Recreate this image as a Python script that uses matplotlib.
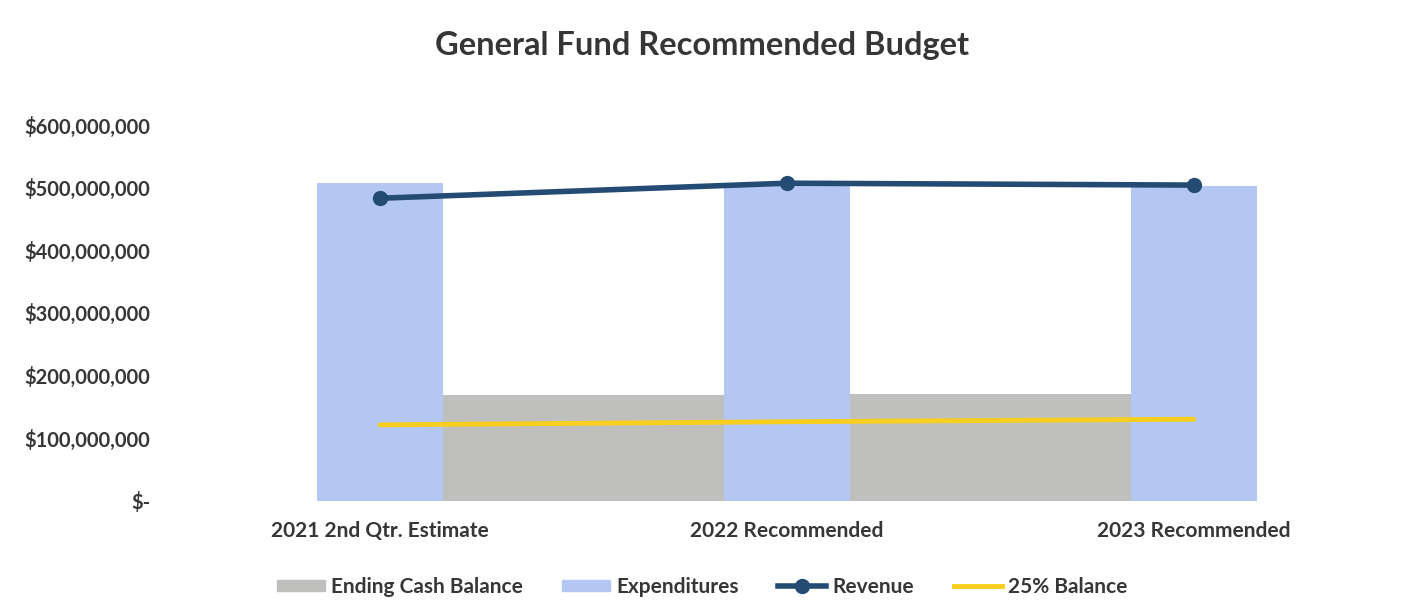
import numpy as np
import matplotlib.pyplot as plt
from matplotlib.patches import Patch
from matplotlib.lines import Line2D
from matplotlib.ticker import FuncFormatter

plt.rcParams['font.family'] = ['Lato', 'DejaVu Sans']
plt.rcParams['font.weight'] = 'bold'

# budget periods and series (dollars)
periods = ['2021 2nd Qtr. Estimate', '2022 Recommended', '2023 Recommended']
expenditures = [507e6, 505e6, 502e6]
revenue = [483e6, 507e6, 504e6]
balance_25 = [121e6, 126e6, 130e6]
# ending cash balance sits between consecutive periods
ending_cash = [169e6, 171e6]

GREY = '#BFBFBD'
BLUE = '#B4C7F2'
NAVY = '#244B74'
GOLD = '#F8CF1E'
TEXT = '#363636'

x = np.arange(len(periods))
x_cash = (x[:-1] + x[1:]) / 2

fig = plt.figure(figsize=(14.04, 6.02), dpi=100)
ax = fig.add_axes([0.126, 0.1684, 0.869, 0.624])

ax.bar(x_cash, ending_cash, width=0.69, color=GREY, zorder=1)
ax.bar(x, expenditures, width=0.31, color=BLUE, zorder=2)
ax.plot(x, revenue, color=NAVY, lw=4, marker='o', ms=10, zorder=4)
ax.plot(x, balance_25, color=GOLD, lw=3.5, zorder=3, solid_capstyle='round')

ax.set_xlim(-0.5, 2.5)
ax.set_ylim(0, 600e6)
ax.set_yticks(np.arange(0, 600e6 + 1, 100e6))
ax.yaxis.set_major_formatter(FuncFormatter(
    lambda v, _: '$-' if v == 0 else f'${v:,.0f}'))
ax.set_xticks(x)
ax.set_xticklabels(periods)
ax.tick_params(length=0, labelcolor=TEXT)
ax.tick_params(axis='x', labelsize=15, pad=15)
ax.tick_params(axis='y', labelsize=14.5, pad=19)
for s in ax.spines.values():
    s.set_visible(False)

fig.suptitle('General Fund Recommended Budget', x=0.5, y=0.948,
             fontsize=23.5, fontweight='bold', color=TEXT)

handles = [
    Patch(color=GREY),
    Patch(color=BLUE),
    Line2D([], [], color=NAVY, lw=4, marker='o', ms=10),
    Line2D([], [], color=GOLD, lw=3.5),
]
labels = ['Ending Cash Balance', 'Expenditures', 'Revenue', '25% Balance']
fig.legend(handles, labels, loc='center', bbox_to_anchor=(0.5, 0.025), ncol=4,
           frameon=False, fontsize=15, handlelength=2.3, handleheight=0.45,
           columnspacing=1.9, handletextpad=0.3, labelcolor=TEXT)

fig.savefig('out.png', dpi=100)
